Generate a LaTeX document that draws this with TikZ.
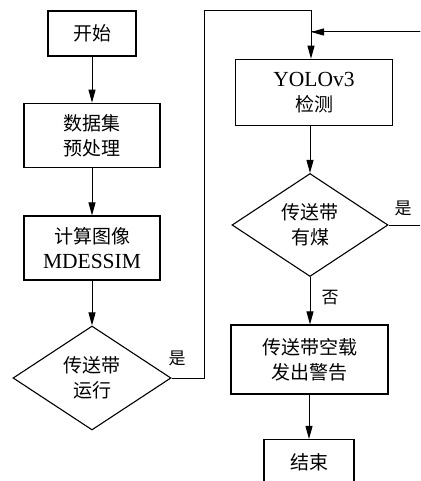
\documentclass[tikz,border=0pt]{standalone}
\usepackage{fontspec}
\setmainfont{Liberation Serif}
\newfontfamily\cjk{Noto Sans CJK SC}
\usetikzlibrary{shapes.geometric,arrows.meta}
\newcommand{\latin}[1]{{\rmfamily\fontsize{21.5}{25}\selectfont #1}}
\begin{document}
\begin{tikzpicture}[x=1pt,y=-1pt,
  base/.style={draw,line width=1.1pt,inner sep=0pt,align=center,
    font=\cjk\fontsize{19}{25}\selectfont},
  procbox/.style={base,rectangle},
  decision/.style={base,diamond},
  conn/.style={line width=1pt},
  arr/.style={conn,-{Triangle[length=13pt,width=7pt]}},
  lbl/.style={font=\cjk\fontsize{17}{20}\selectfont,inner sep=0pt}]
\useasboundingbox (0,0) rectangle (420,481);
\clip (0,0) rectangle (420,481);
\node[procbox,minimum width=88pt,minimum height=45pt] (start) at (92,33.5) {开始};
\node[procbox,minimum width=136pt,minimum height=64.5pt] (prep) at (92,135.5) {数据集\\预处理};
\node[procbox,minimum width=136pt,minimum height=64pt] (calc) at (92,248) {计算图像\\\latin{MDESSIM}};
\node[decision,minimum width=158pt,minimum height=104pt,aspect=1.52] (d1) at (92,378) {传送带\\运行};
\node[procbox,minimum width=157pt,minimum height=66.5pt] (yolo) at (314,92.5) {\latin{YOLOv3}\\检测};
\node[decision,minimum width=156pt,minimum height=103pt,aspect=1.51] (d2) at (310,225) {传送带\\有煤};
\node[procbox,minimum width=157pt,minimum height=69pt] (warn) at (309.5,359.5) {传送带空载\\发出警告};
\node[procbox,minimum width=90pt,minimum height=45pt] (stop) at (309,462) {结束};

\coordinate (top) at (311,11);
\coordinate (join) at (311,32);
\coordinate (far) at (430,32);

\draw[arr] (start) -- (prep);
\draw[arr] (prep) -- (calc);
\draw[arr] (calc) -- (d1);
\draw[arr] (d1.east) -- (204.3,378) |- (top) -- (yolo.north -| top);
\draw[conn] (d2.east) -- (430,225) |- (far) -- (join);
\draw[arr] (far) -- (join);
\draw[arr] (yolo.south -| d2.north) -- (d2.north);
\draw[arr] (d2.south) -- (warn.north -| d2.south);
\draw[arr] (warn.south -| stop.north) -- (stop.north);

\node[lbl] (y1) at (177,358) {是};
\node[lbl] (y2) at (403,208) {是};
\node[lbl] (n2) at (330,298) {否};
\end{tikzpicture}
\end{document}
